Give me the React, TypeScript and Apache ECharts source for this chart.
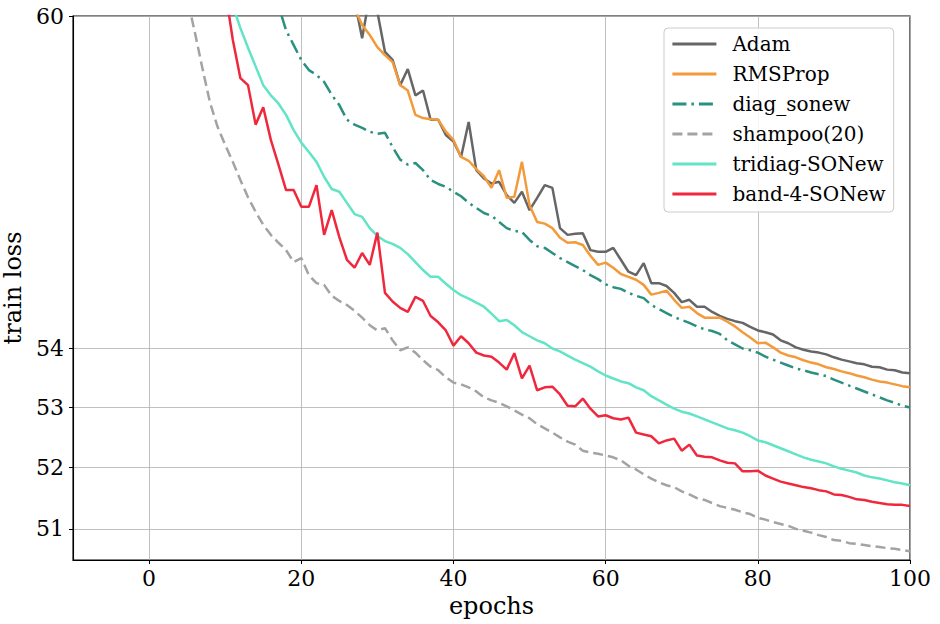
import React, { useEffect, useRef } from 'react';
import * as echarts from 'echarts';

// ---- data ----
const xTicks = [0, 20, 40, 60, 80, 100];
const yTicks = [51, 52, 53, 54, 60];
const xMin = -10;
const xMax = 100;
const yMin = 50.5;
const yMax = 60;

const seriesNames = ['Adam', 'RMSProp', 'diag_sonew', 'shampoo(20)', 'tridiag-SONew', 'band-4-SONew'];
const seriesColors = ['#666666', '#f39a3a', '#2b9080', '#a3a3a3', '#62e4c6', '#f0283e'];

const adamStart = 26;
const adamLoss = [
  61.0, 60.3, 59.58, 60.4, 60.08, 59.32, 59.17, 58.70, 59.00, 58.51,
  58.60, 58.06, 58.06, 57.78, 57.66, 57.38, 58.02, 57.14, 56.99, 56.90,
  56.93, 56.69, 56.55, 56.75, 56.42, 56.64, 56.87, 56.82, 56.10, 55.98,
  56.00, 56.01, 55.71, 55.68, 55.68, 55.75, 55.54, 55.33, 55.27, 55.48,
  55.13, 55.13, 55.08, 54.96, 54.80, 54.84, 54.72, 54.72, 54.63, 54.56,
  54.51, 54.47, 54.44, 54.37, 54.31, 54.28, 54.24, 54.14, 54.09, 54.02,
  53.98, 53.95, 53.93, 53.90, 53.85, 53.81, 53.78, 53.75, 53.73, 53.69,
  53.68, 53.64, 53.63, 53.59, 53.58,
];

const rmspropStart = 26;
const rmspropLoss = [
  61.0, 60.15, 59.83, 59.64, 59.41, 59.26, 59.13, 58.70, 58.60, 58.15,
  58.09, 58.07, 58.06, 57.84, 57.69, 57.38, 57.31, 57.16, 57.03, 56.82,
  57.14, 56.64, 56.66, 57.29, 56.51, 56.21, 56.18, 56.10, 55.93, 55.84,
  55.85, 55.80, 55.61, 55.45, 55.49, 55.40, 55.29, 55.24, 55.19, 55.10,
  54.93, 54.96, 55.00, 54.84, 54.70, 54.72, 54.61, 54.53, 54.53, 54.53,
  54.46, 54.38, 54.28, 54.19, 54.09, 54.10, 54.02, 53.93, 53.88, 53.85,
  53.80, 53.76, 53.73, 53.68, 53.65, 53.61, 53.58, 53.54, 53.51, 53.47,
  53.44, 53.42, 53.39, 53.36, 53.34,
];

const diagStart = 16;
const diagLoss = [
  61.0, 60.2, 59.73, 59.45, 59.17, 58.98, 58.89, 58.76, 58.52, 58.33,
  58.06, 57.97, 57.91, 57.84, 57.80, 57.82, 57.56, 57.33, 57.24, 57.27,
  57.14, 56.96, 56.89, 56.84, 56.75, 56.67, 56.55, 56.46, 56.37, 56.32,
  56.21, 56.10, 56.05, 56.03, 55.89, 55.78, 55.75, 55.66, 55.57, 55.50,
  55.43, 55.36, 55.27, 55.20, 55.11, 55.06, 55.03, 54.96, 54.91, 54.87,
  54.75, 54.68, 54.61, 54.54, 54.49, 54.44, 54.38, 54.33, 54.30, 54.25,
  54.14, 54.07, 54.00, 53.97, 53.93, 53.86, 53.81, 53.76, 53.71, 53.66,
  53.63, 53.59, 53.56, 53.53, 53.47, 53.42, 53.37, 53.32, 53.27, 53.22,
  53.17, 53.12, 53.08, 53.03, 53.00,
];

const shampooStart = 4;
const shampooLoss = [
  61.1, 60.35, 59.70, 59.02, 58.38, 57.93, 57.60, 57.29, 56.96, 56.65,
  56.39, 56.16, 55.98, 55.84, 55.71, 55.50, 55.57, 55.27, 55.13, 55.10,
  54.91, 54.82, 54.75, 54.65, 54.53, 54.40, 54.31, 54.35, 54.14, 53.97,
  54.02, 53.93, 53.80, 53.69, 53.63, 53.51, 53.42, 53.39, 53.34, 53.27,
  53.17, 53.12, 53.08, 53.02, 52.95, 52.88, 52.82, 52.72, 52.65, 52.58,
  52.50, 52.43, 52.38, 52.28, 52.25, 52.23, 52.20, 52.17, 52.12, 52.03,
  51.97, 51.89, 51.82, 51.76, 51.71, 51.68, 51.61, 51.56, 51.50, 51.47,
  51.42, 51.37, 51.34, 51.31, 51.27, 51.24, 51.18, 51.15, 51.11, 51.08,
  51.05, 51.00, 50.97, 50.94, 50.90, 50.87, 50.82, 50.81, 50.77, 50.76,
  50.74, 50.72, 50.71, 50.69, 50.68, 50.66, 50.64,
];

const tridiagStart = 10;
const tridiagLoss = [
  61.0, 60.2, 59.77, 59.40, 59.05, 58.70, 58.51, 58.36, 58.15, 57.87,
  57.64, 57.47, 57.29, 57.02, 56.80, 56.75, 56.55, 56.35, 56.30, 56.10,
  55.96, 55.87, 55.82, 55.75, 55.64, 55.50, 55.36, 55.24, 55.24, 55.12,
  55.01, 54.92, 54.86, 54.79, 54.72, 54.60, 54.47, 54.49, 54.40, 54.28,
  54.21, 54.14, 54.09, 54.00, 53.95, 53.88, 53.81, 53.75, 53.69, 53.61,
  53.54, 53.49, 53.44, 53.41, 53.34, 53.29, 53.19, 53.12, 53.05, 52.98,
  52.93, 52.90, 52.85, 52.80, 52.75, 52.70, 52.65, 52.62, 52.58, 52.52,
  52.45, 52.42, 52.37, 52.32, 52.27, 52.22, 52.17, 52.13, 52.10, 52.07,
  52.02, 51.98, 51.95, 51.92, 51.87, 51.84, 51.82, 51.79, 51.76, 51.74,
  51.71,
];

const bandStart = 9;
const bandLoss = [
  61.5, 60.5, 59.55, 58.83, 58.70, 57.97, 58.29, 57.69, 57.24, 56.78,
  56.78, 56.48, 56.48, 56.87, 55.98, 56.42, 55.94, 55.54, 55.40, 55.66,
  55.45, 56.02, 54.96, 54.81, 54.70, 54.63, 54.89, 54.82, 54.56, 54.45,
  54.31, 54.05, 54.21, 54.09, 53.93, 53.88, 53.86, 53.76, 53.64, 53.92,
  53.49, 53.71, 53.29, 53.34, 53.35, 53.22, 53.03, 53.02, 53.15, 52.98,
  52.85, 52.87, 52.82, 52.80, 52.83, 52.58, 52.55, 52.52, 52.40, 52.45,
  52.48, 52.28, 52.38, 52.20, 52.18, 52.17, 52.12, 52.08, 52.07, 51.94,
  51.94, 51.95, 51.87, 51.82, 51.77, 51.74, 51.71, 51.68, 51.66, 51.63,
  51.61, 51.56, 51.55, 51.52, 51.48, 51.47, 51.44, 51.42, 51.40, 51.39,
  51.39, 51.37,
];

const starts = [adamStart, rmspropStart, diagStart, shampooStart, tridiagStart, bandStart];
const losses = [adamLoss, rmspropLoss, diagLoss, shampooLoss, tridiagLoss, bandLoss];
const dashes: any[] = ['solid', 'solid', [14, 5, 2.5, 5], [10, 5], 'solid', 'solid'];

const FONT = 'DejaVu Serif';

// log-scaled y axis: plot ln(loss)
const toSeries = (start: number, vals: number[]) => vals.map((v, i) => [start + i, Math.log(v)]);

export default function App() {
  const ref = useRef<HTMLDivElement>(null);

  useEffect(() => {
    if (!ref.current) return;
    const chart = echarts.init(ref.current, undefined, { renderer: 'svg' });
    const yTickLn = yTicks.map((t) => Math.log(t));
    const option: any = {
      animation: false,
      backgroundColor: '#ffffff',
      grid: {
        left: 73,
        right: 30,
        top: 16,
        bottom: 64,
        containLabel: false,
        outerBoundsMode: 'none',
        show: true,
        borderColor: '#000',
        borderWidth: 1.1,
        backgroundColor: 'transparent',
      },
      legend: {
        orient: 'vertical',
        left: 664,
        top: 28,
        itemWidth: 44,
        itemHeight: 14,
        itemGap: 10,
        padding: [6, 8, 8, 7],
        backgroundColor: 'rgba(255,255,255,0.85)',
        borderColor: '#cccccc',
        borderWidth: 1,
        borderRadius: 4,
        itemStyle: { opacity: 0, color: 'transparent', borderWidth: 0 },
        lineStyle: { width: 2.8 },
        textStyle: { fontFamily: FONT, fontSize: 20, color: '#000', lineHeight: 20, padding: [0, 0, 0, 11] },
        data: seriesNames,
      },
      xAxis: {
        type: 'value',
        min: xMin,
        max: xMax,
        name: 'epochs',
        nameLocation: 'middle',
        nameGap: 30,
        nameTextStyle: { fontFamily: FONT, fontSize: 24, color: '#000' },
        axisLine: { show: true, onZero: false, lineStyle: { color: '#000', width: 1.1 } },
        axisTick: { show: true, inside: false, length: 4, customValues: xTicks, lineStyle: { color: '#000', width: 1 } },
        axisLabel: { customValues: xTicks, fontFamily: FONT, fontSize: 22, color: '#000', margin: 7 },
        splitLine: { show: true, lineStyle: { color: '#b0b0b0', width: 0.8 } },
      },
      yAxis: {
        type: 'value',
        min: Math.log(yMin),
        max: Math.log(yMax),
        name: 'train loss',
        nameLocation: 'middle',
        nameGap: 40,
        nameTextStyle: { fontFamily: FONT, fontSize: 24, color: '#000' },
        axisLine: { show: true, onZero: false, lineStyle: { color: '#000', width: 1.1 } },
        axisTick: { show: true, inside: false, length: 4, customValues: yTickLn, lineStyle: { color: '#000', width: 1 } },
        axisLabel: {
          customValues: yTickLn,
          fontFamily: FONT,
          fontSize: 22,
          color: '#000',
          margin: 9,
          formatter: (v: number) => String(Math.round(Math.exp(v))),
        },
        splitLine: { show: true, lineStyle: { color: '#b0b0b0', width: 0.8 } },
      },
      series: seriesNames.map((name, i) => ({
        name,
        type: 'line',
        data: toSeries(starts[i], losses[i]),
        symbol: 'none',
        showSymbol: false,
        clip: true,
        z: 2 + i,
        lineStyle: { color: seriesColors[i], width: 2.5, type: dashes[i] },
        itemStyle: { color: seriesColors[i] },
      })),
    };
    chart.setOption(option);
    return () => chart.dispose();
  }, []);

  return (
    <div
      ref={ref}
      style={{ position: 'fixed', left: 0, top: 0, width: 940, height: 624, background: '#fff' }}
    />
  );
}
